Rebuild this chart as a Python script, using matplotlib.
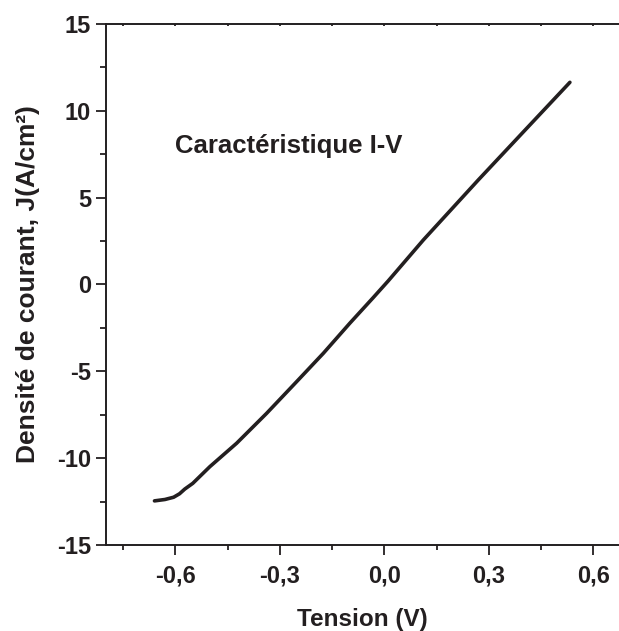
import matplotlib
matplotlib.use("Agg")
import matplotlib.pyplot as plt
from matplotlib.ticker import MultipleLocator, FuncFormatter

plt.rcParams['font.family'] = ['Liberation Sans', 'DejaVu Sans']
plt.rcParams['font.weight'] = 'bold'
plt.rcParams['axes.unicode_minus'] = False

# I-V characteristic: voltage (V) and current density (A/cm²)
tension = [-0.660, -0.630, -0.605, -0.588, -0.573, -0.550, -0.501, -0.424,
           -0.338, -0.252, -0.175, -0.099, -0.032, 0.011, 0.112, 0.270,
           0.400, 0.533]
densite = [-12.46, -12.38, -12.25, -12.05, -11.78, -11.45, -10.49, -9.14,
           -7.42, -5.60, -3.96, -2.23, -0.76, 0.20, 2.56, 6.02,
           8.80, 11.64]

x_ticks = [-0.6, -0.3, 0.0, 0.3, 0.6]
y_ticks = [-15, -10, -5, 0, 5, 10, 15]

ink = '#231f20'

fig = plt.figure(figsize=(6.19, 6.31), dpi=100)
ax = fig.add_axes([0.1708, 0.1363, 0.8292, 0.8257])

ax.plot(tension, densite, color=ink, lw=2.6, solid_capstyle='round',
        solid_joinstyle='round')

ax.set_xlim(-0.80, 0.674)
ax.set_ylim(-15, 15)
ax.set_xticks(x_ticks)
ax.set_yticks(y_ticks)
ax.xaxis.set_minor_locator(MultipleLocator(0.15))
ax.yaxis.set_minor_locator(MultipleLocator(2.5))
ax.xaxis.set_major_formatter(
    FuncFormatter(lambda v, p: f"{v:.1f}".replace('.', ',').replace('-0,0', '0,0')))
ax.yaxis.set_major_formatter(FuncFormatter(lambda v, p: f"{v:.0f}"))

for side in ['left', 'top', 'bottom']:
    ax.spines[side].set_linewidth(1.4)
    ax.spines[side].set_color(ink)
ax.spines['right'].set_visible(False)

ax.tick_params(axis='x', which='major', direction='out', length=7, width=1.3,
               pad=7, labelsize=17, colors=ink, top=True)
ax.tick_params(axis='x', which='minor', direction='out', length=3.8, width=1.3,
               colors=ink, top=True)
ax.tick_params(axis='y', which='major', direction='out', length=7.5, width=1.3,
               pad=3, labelsize=17, colors=ink)
ax.tick_params(axis='y', which='minor', direction='out', length=4, width=1.3,
               colors=ink)
ax.tick_params(axis='x', which='both', labeltop=False)
for t in ax.xaxis.get_major_ticks() + ax.xaxis.get_minor_ticks():
    t.tick2line.set_markersize(1.5)
    t.tick2line.set_marker(3)

ax.set_xlabel('Tension (V)', fontsize=17.5, fontweight='bold', color=ink, labelpad=15)
ax.set_ylabel('Densité de courant, J(A/cm²)', fontsize=19, fontweight='bold',
              color=ink, labelpad=12)

ax.text(-0.601, 7.57, 'Caractéristique I-V', fontsize=18.5, fontweight='bold',
        color=ink, va='baseline', ha='left')

fig.savefig('out.png', dpi=100)
